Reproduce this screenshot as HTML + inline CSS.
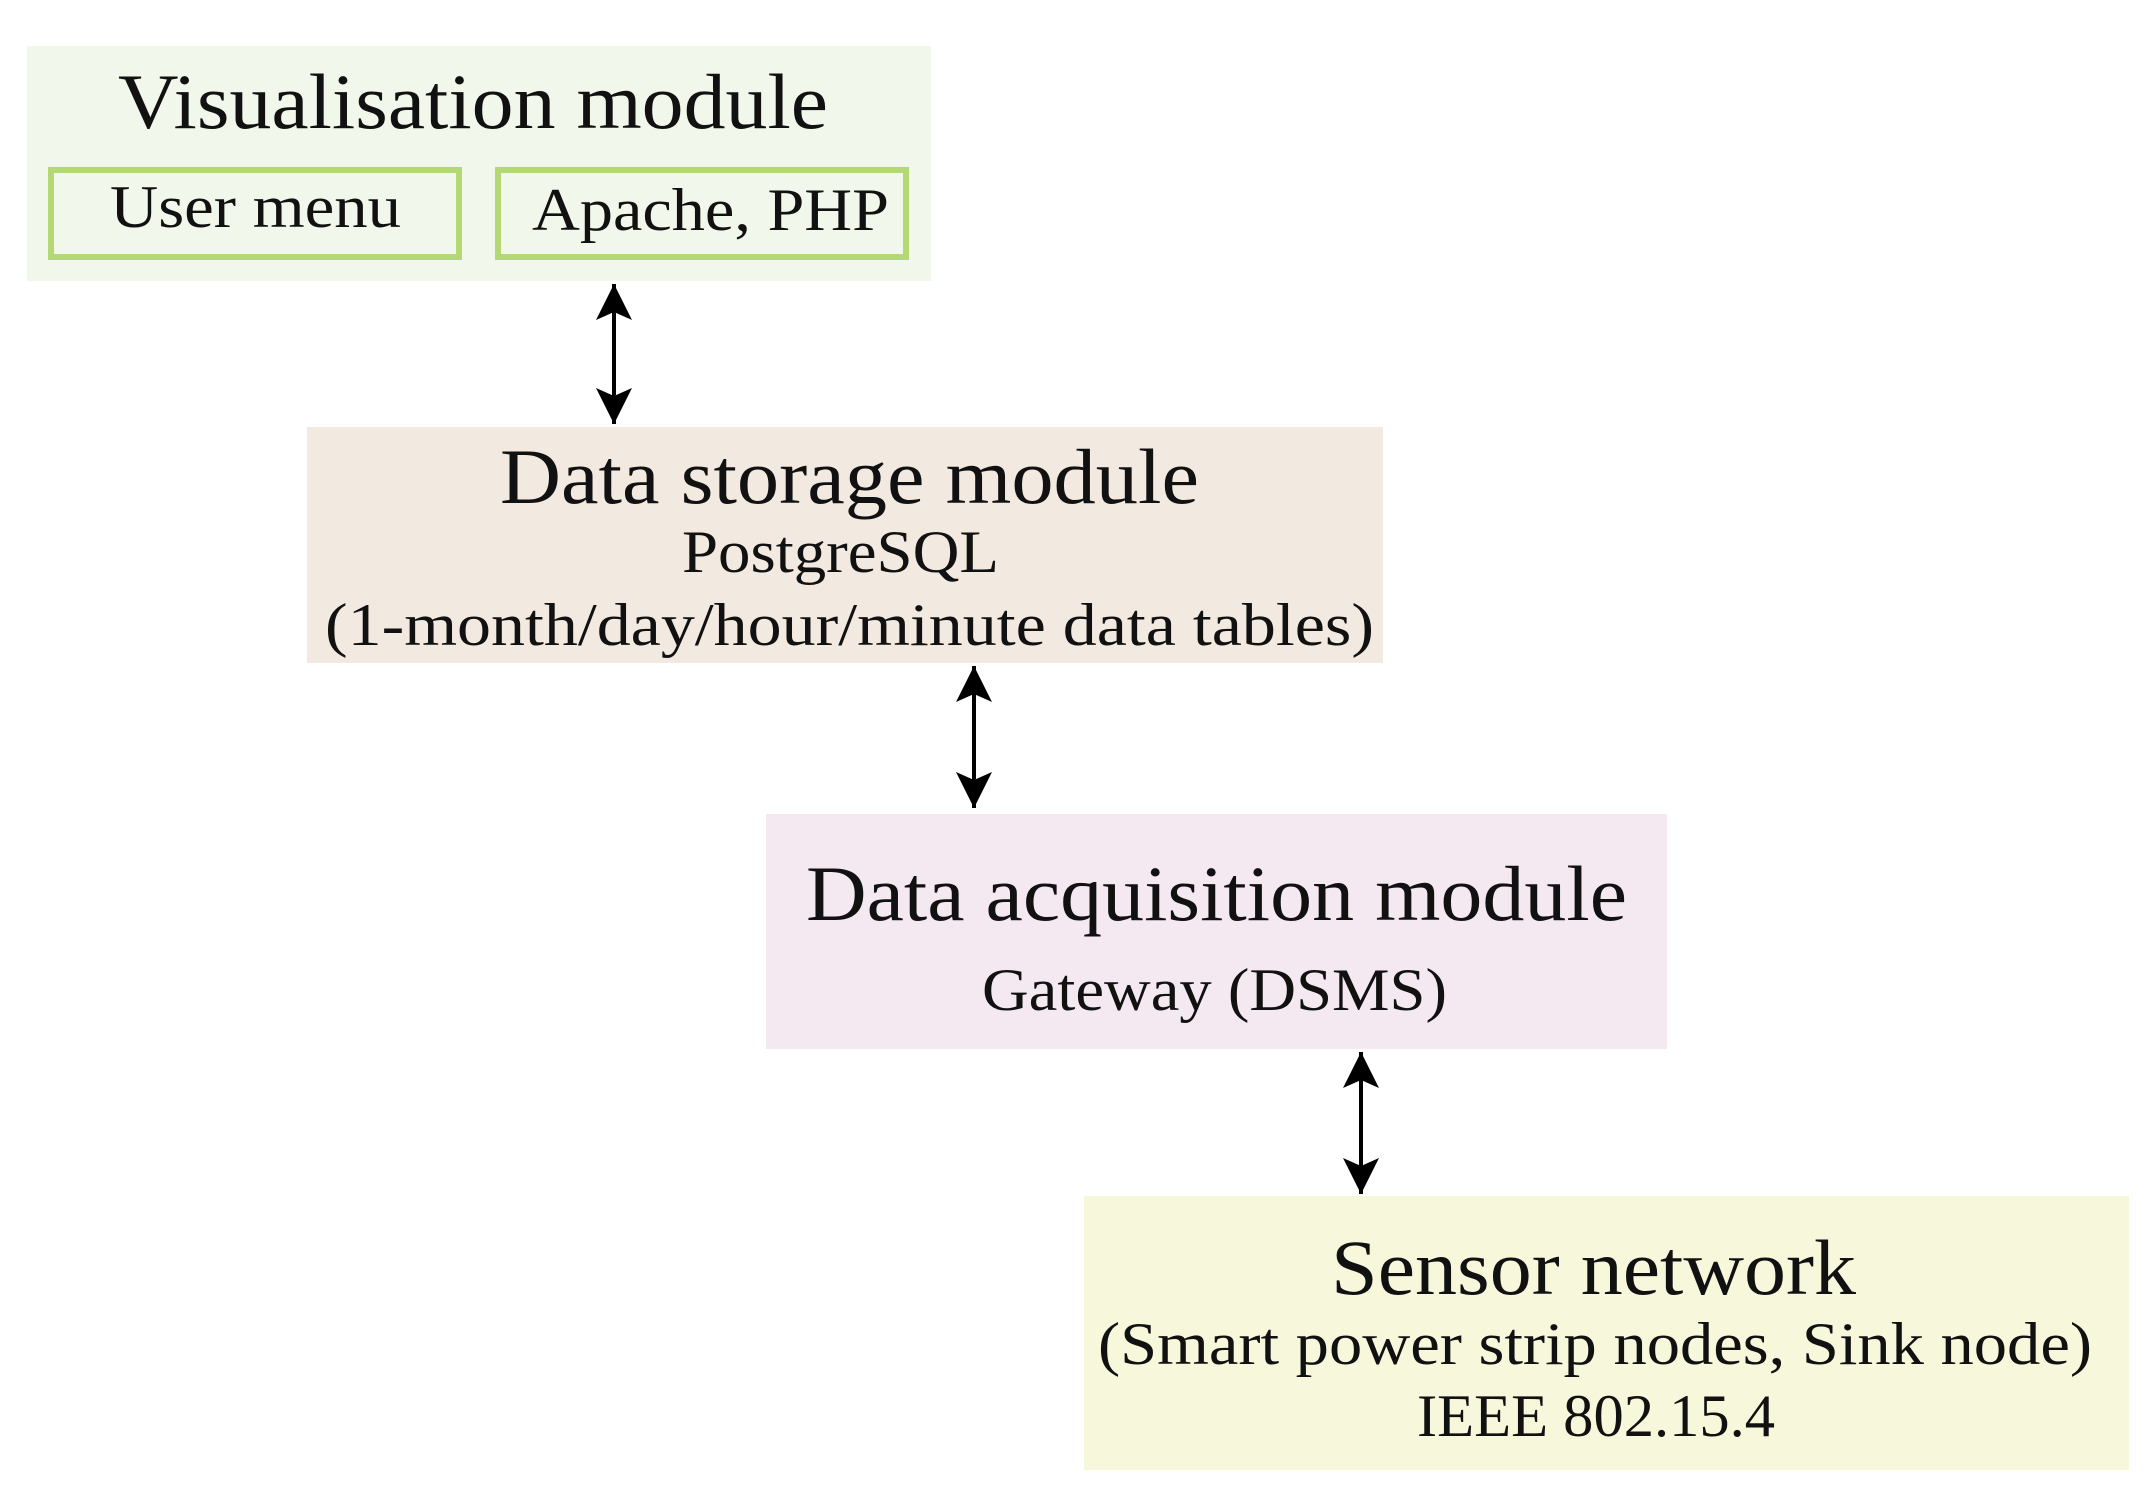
<!DOCTYPE html>
<html><head><meta charset="utf-8"><style>
html,body{margin:0;padding:0;background:#fff;}
svg{display:block;}
text{font-family:"Liberation Serif",serif;fill:#111;}
</style></head><body>
<svg width="2155" height="1504" viewBox="0 0 2155 1504" xmlns="http://www.w3.org/2000/svg">
<defs>
<marker id="ah" viewBox="0 0 40 40" refX="38" refY="20" markerWidth="40" markerHeight="40" markerUnits="userSpaceOnUse" orient="auto-start-reverse">
<path d="M38,20 L2,2 L10,20 L2,38 Z" fill="#000"/>
</marker>
</defs>
<!-- Visualisation -->
<rect x="27" y="46" width="904" height="235" fill="#f2f7ec"/>
<text x="118" y="128" font-size="78" textLength="710" lengthAdjust="spacingAndGlyphs">Visualisation module</text>
<rect x="51" y="170" width="408" height="87" fill="none" stroke="#b3d874" stroke-width="6"/>
<rect x="498" y="170" width="408" height="87" fill="none" stroke="#b3d874" stroke-width="6"/>
<text x="110" y="227" font-size="60" textLength="291" lengthAdjust="spacingAndGlyphs">User menu</text>
<text x="532" y="230" font-size="60" textLength="357" lengthAdjust="spacingAndGlyphs">Apache, PHP</text>
<!-- arrow 1 -->
<line x1="614" y1="284" x2="614" y2="424" stroke="#000" stroke-width="4" marker-start="url(#ah)" marker-end="url(#ah)"/>
<!-- Data storage -->
<rect x="307" y="427" width="1076" height="236" fill="#f2e9e1"/>
<text x="500" y="503" font-size="78" textLength="699" lengthAdjust="spacingAndGlyphs">Data storage module</text>
<text x="682" y="572" font-size="60" textLength="317" lengthAdjust="spacingAndGlyphs">PostgreSQL</text>
<text x="325" y="645" font-size="60" textLength="1049" lengthAdjust="spacingAndGlyphs">(1-month/day/hour/minute data tables)</text>
<!-- arrow 2 -->
<line x1="974" y1="666" x2="974" y2="808" stroke="#000" stroke-width="4" marker-start="url(#ah)" marker-end="url(#ah)"/>
<!-- Data acquisition -->
<rect x="766" y="814" width="901" height="235" fill="#f5e9f1"/>
<text x="806" y="920" font-size="78" textLength="821" lengthAdjust="spacingAndGlyphs">Data acquisition module</text>
<text x="982" y="1010" font-size="60" textLength="465" lengthAdjust="spacingAndGlyphs">Gateway (DSMS)</text>
<!-- arrow 3 -->
<line x1="1361" y1="1052" x2="1361" y2="1194" stroke="#000" stroke-width="4" marker-start="url(#ah)" marker-end="url(#ah)"/>
<!-- Sensor network -->
<rect x="1084" y="1196" width="1045" height="274" fill="#f7f7dc"/>
<text x="1331" y="1294" font-size="78" textLength="525" lengthAdjust="spacingAndGlyphs">Sensor network</text>
<text x="1098" y="1364" font-size="60" textLength="994" lengthAdjust="spacingAndGlyphs">(Smart power strip nodes, Sink node)</text>
<text x="1417" y="1436" font-size="60" textLength="358" lengthAdjust="spacingAndGlyphs">IEEE 802.15.4</text>
</svg>
</body></html>
